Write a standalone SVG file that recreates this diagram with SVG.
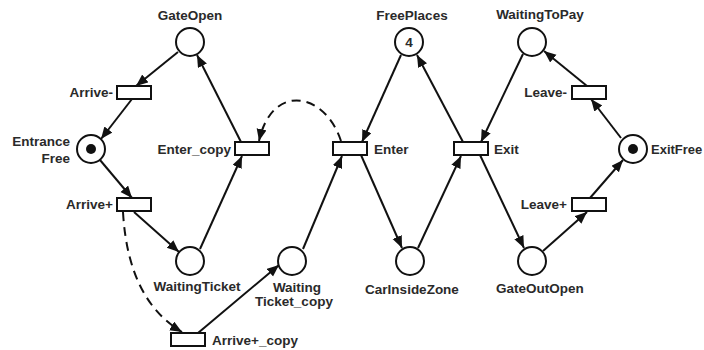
<svg xmlns="http://www.w3.org/2000/svg" width="704" height="350" viewBox="0 0 704 350">
<defs>
<marker id="ah" markerUnits="userSpaceOnUse" markerWidth="13" markerHeight="11" refX="12" refY="5" orient="auto">
<path d="M0,0 L12,5 L0,10 z" fill="#111"/>
</marker>
</defs>
<style>
.pl{fill:#fff;stroke:#111;stroke-width:2}
.tr{fill:#fff;stroke:#111;stroke-width:2}
.tk{fill:#111}
.arc{fill:none;stroke:#111;stroke-width:2;marker-end:url(#ah)}
.dash{stroke-dasharray:9,6}
text{font-family:"Liberation Sans",Arial,sans-serif;font-weight:bold;font-size:13.5px;fill:#2a2a2a}
.m{text-anchor:middle}
.e{text-anchor:end}
</style>
<rect width="704" height="350" fill="#fff"/>
<g id="connectors">
<line class="arc" x1="178" y1="52" x2="136" y2="86"/>
<line class="arc" x1="132" y1="99" x2="101" y2="139"/>
<line class="arc" x1="100" y1="160" x2="132" y2="198"/>
<line class="arc" x1="134" y1="212" x2="179" y2="252"/>
<line class="arc" x1="200" y1="249" x2="242" y2="156"/>
<line class="arc" x1="241" y1="142" x2="197" y2="55"/>
<path class="arc dash" d="M123,212 Q128,300 182,332"/>
<line class="arc" x1="198" y1="333" x2="279" y2="265"/>
<line class="arc" x1="303" y1="249" x2="342" y2="156"/>
<path class="arc dash" d="M341,141 C325,92 272,82 259,141"/>
<line class="arc" x1="401" y1="55" x2="362" y2="142"/>
<line class="arc" x1="361" y1="155" x2="402" y2="248"/>
<line class="arc" x1="418" y1="248" x2="461" y2="156"/>
<line class="arc" x1="463" y1="142" x2="417" y2="55"/>
<line class="arc" x1="523" y1="54" x2="481" y2="142"/>
<line class="arc" x1="480" y1="155" x2="524" y2="248"/>
<line class="arc" x1="543" y1="251" x2="587" y2="212"/>
<line class="arc" x1="590" y1="198" x2="623" y2="160"/>
<line class="arc" x1="621" y1="138" x2="591" y2="99"/>
<line class="arc" x1="587" y1="86" x2="544" y2="51"/>
</g>
<g id="GateOpen"><circle class="pl" cx="190" cy="42" r="14"/><text class="m" x="190" y="20">GateOpen</text></g>
<g id="EntranceFree"><circle class="pl" cx="91" cy="149" r="14"/><circle class="tk" cx="91" cy="149" r="5"/><text class="e" x="70" y="146">Entrance</text><text class="e" x="70" y="163">Free</text></g>
<g id="WaitingTicket"><circle class="pl" cx="190" cy="261" r="14"/><text class="m" x="197" y="291">WaitingTicket</text></g>
<g id="WaitingTicket_copy"><circle class="pl" cx="292" cy="261" r="14"/><text class="m" x="297" y="292">Waiting</text><text class="m" x="294" y="306">Ticket_copy</text></g>
<g id="FreePlaces"><circle class="pl" cx="409" cy="42" r="14"/><text class="m" x="409" y="47">4</text><text class="m" x="412" y="20">FreePlaces</text></g>
<g id="CarInsideZone"><circle class="pl" cx="410" cy="261" r="14"/><text class="m" x="412" y="294">CarInsideZone</text></g>
<g id="GateOutOpen"><circle class="pl" cx="532" cy="261" r="14"/><text class="m" x="540" y="293">GateOutOpen</text></g>
<g id="WaitingToPay"><circle class="pl" cx="532" cy="42" r="14"/><text class="m" x="540" y="19">WaitingToPay</text></g>
<g id="ExitFree"><circle class="pl" cx="633" cy="149" r="14"/><circle class="tk" cx="633" cy="149" r="5"/><text x="651" y="154" style="font-size:13px">ExitFree</text></g>
<g id="Arrive-"><rect class="tr" x="117" y="86" width="34" height="13"/><text class="e" x="113" y="97">Arrive-</text></g>
<g id="Arrive+"><rect class="tr" x="117" y="198" width="34" height="13"/><text class="e" x="113" y="209">Arrive+</text></g>
<g id="Enter_copy"><rect class="tr" x="235" y="142" width="34" height="13"/><text class="e" x="231" y="154">Enter_copy</text></g>
<g id="Arrive+_copy"><rect class="tr" x="171" y="333" width="34" height="13"/><text x="212" y="345">Arrive+_copy</text></g>
<g id="Enter"><rect class="tr" x="333" y="142" width="34" height="13"/><text x="374" y="154">Enter</text></g>
<g id="Exit"><rect class="tr" x="454" y="142" width="34" height="13"/><text x="494" y="154">Exit</text></g>
<g id="Leave-"><rect class="tr" x="572" y="86" width="34" height="13"/><text class="e" x="567" y="97">Leave-</text></g>
<g id="Leave+"><rect class="tr" x="572" y="198" width="34" height="13"/><text class="e" x="567" y="209">Leave+</text></g>
</svg>
